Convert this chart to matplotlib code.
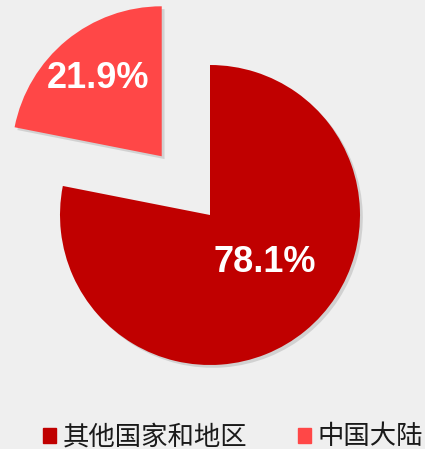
import matplotlib.pyplot as plt
import matplotlib.patches as mpatches
import matplotlib.patheffects as pe

plt.rcParams['font.family'] = ['Noto Sans CJK SC', 'DejaVu Sans']

# share of each region (%), first slice starts at 12 o'clock going counter-clockwise
labels = ['中国大陆', '其他国家和地区']
shares = [21.9, 78.1]
colors = ['#FF4747', '#C00000']

W, H = 425, 449

fig = plt.figure(figsize=(W / 100, H / 100), dpi=100)
fig.patch.set_facecolor('#EFEFEF')
ax = fig.add_axes([0, 0, 1, 1])

shadow = [pe.SimplePatchShadow(offset=(2, -2), shadow_rgbFace='#999999', alpha=0.35), pe.Normal()]

wedges, texts, autotexts = ax.pie(
    shares,
    colors=colors,
    startangle=90,
    counterclock=True,
    explode=[76, 0],
    center=(210, H - 215),
    radius=150,
    autopct='%.1f%%',
    pctdistance=0.67,
    textprops=dict(color='white', fontsize=26, fontweight='bold', family='Liberation Sans'),
    frame=True,
)
for w in wedges:
    w.set_path_effects(shadow)
ax.set_xlim(0, W)
ax.set_ylim(0, H)
ax.set_aspect('equal')
ax.axis('off')

# move the big label a bit to match the original layout
autotexts[1].set_position((265, H - 263))

handles = [mpatches.Patch(color=colors[1], label=labels[1]),
           mpatches.Patch(color=colors[0], label=labels[0])]
leg = fig.legend(handles=handles, loc='center', bbox_to_anchor=(233 / W, 1 - 437 / H),
                 ncol=2, frameon=False, fontsize=19, handlelength=0.5, handleheight=0.5,
                 handletextpad=0.25, columnspacing=1.9, labelcolor='#1A1A1A')

fig.savefig('out.png', dpi=100, facecolor=fig.get_facecolor())
